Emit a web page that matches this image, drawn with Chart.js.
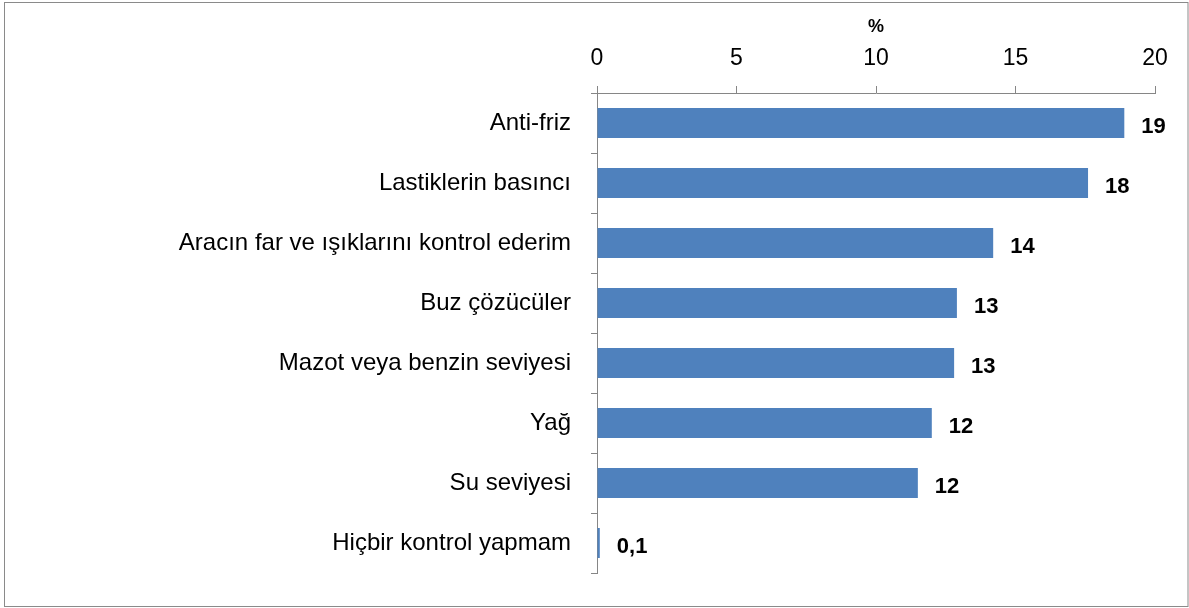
<!DOCTYPE html>
<html><head><meta charset="utf-8">
<script src="https://cdn.jsdelivr.net/npm/chart.js@4/dist/chart.umd.min.js"></script>
<style>html,body{margin:0;padding:0;background:#fff}#w{width:1189px;height:608px;position:relative}</style>
</head><body><div id="w"><canvas id="c" width="1189" height="608"></canvas></div>
<script>
const categories = ["Anti-friz","Lastiklerin basıncı","Aracın far ve ışıklarını kontrol ederim","Buz çözücüler","Mazot veya benzin seviyesi","Yağ","Su seviyesi","Hiçbir kontrol yapmam"];
const values = [18.9, 17.6, 14.2, 12.9, 12.8, 12.0, 11.5, 0.1];
const valueLabels = ["19","18","14","13","13","12","12","0,1"];
const xTicks = [0,5,10,15,20];
const FONT = "'Liberation Sans', Arial, sans-serif";

const borderPlugin = {
  id:'frame',
  beforeDraw(chart){
    const ctx = chart.ctx;
    ctx.save();
    ctx.fillStyle='#fff';ctx.fillRect(0,0,chart.width,chart.height);
    ctx.strokeStyle='#8a8a8a';ctx.lineWidth=1;
    ctx.strokeRect(4.5,2.5,chart.width-5.5,chart.height-4);
    ctx.restore();
  }
};
const labelPlugin = {
  id:'vlabels',
  afterDatasetsDraw(chart){
    const ctx = chart.ctx;
    const meta = chart.getDatasetMeta(0);
    ctx.save();
    ctx.font = "bold 22px " + FONT;
    ctx.fillStyle = '#000';
    ctx.textAlign='left';ctx.textBaseline='middle';
    meta.data.forEach((el,i)=>{
      ctx.fillText(valueLabels[i], el.x + 17, el.y + 4);
    });
    ctx.restore();
  }
};

new Chart(document.getElementById('c'),{
  type:'bar',
  data:{labels:categories,datasets:[{data:values,backgroundColor:'#4f81bd',borderColor:'#4f81bd',borderWidth:0,barPercentage:0.5,categoryPercentage:1}]},
  options:{
    indexAxis:'y',responsive:false,animation:false,
    layout:{padding:{left:5,top:0,right:34,bottom:35}},
    plugins:{legend:{display:false},tooltip:{enabled:false}},
    scales:{
      x:{position:'top',min:0,max:20,
        afterBuildTicks(s){s.ticks=xTicks.map(v=>({value:v}));},
        afterFit(s){s.height=93;},
        ticks:{font:{family:FONT,size:23},color:'#000',padding:14},
        grid:{drawOnChartArea:false,tickLength:7,color:'#868686'},
        border:{color:'#868686'},
        title:{display:true,text:'%',font:{family:FONT,size:18,weight:'bold'},color:'#000',padding:{top:16,bottom:0}}
      },
      y:{
        afterFit(s){s.width=592;},
        ticks:{font:{family:FONT,size:24},color:'#000',padding:20},
        grid:{offset:true,drawOnChartArea:false,tickLength:6,color:'#868686'},
        border:{color:'#868686'}
      }
    }
  },
  plugins:[borderPlugin,labelPlugin]
});
</script></body></html>
